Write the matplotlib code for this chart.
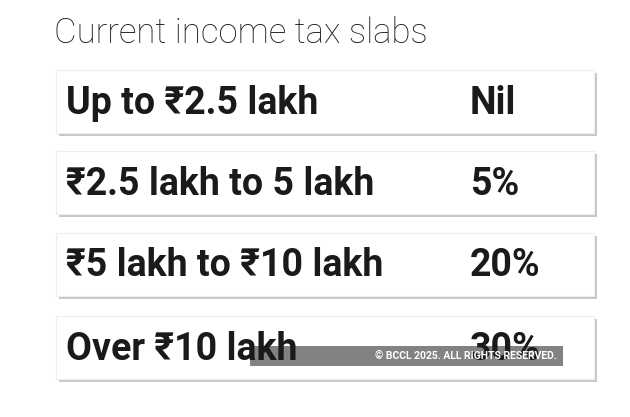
import matplotlib
matplotlib.use("Agg")
import matplotlib.pyplot as plt
from matplotlib.patches import Rectangle

title = "Current income tax slabs"
slabs = ["Up to \u20b92.5 lakh", "\u20b92.5 lakh to 5 lakh", "\u20b95 lakh to \u20b910 lakh", "Over \u20b910 lakh"]
rates = ["Nil", "5%", "20%", "30%"]

W, H = 630, 417
fig = plt.figure(figsize=(W/100, H/100), dpi=100)
ax = fig.add_axes([0, 0, 1, 1])
ax.set_xlim(0, W); ax.set_ylim(H, 0); ax.axis("off")
fam = ["Roboto", "DejaVu Sans"]

ax.text(54, 33, title, fontsize=25, family=fam, fontweight="light", color="#222222", va="center")
tops = [70, 151, 233, 316]
for t, s, r in zip(tops, slabs, rates):
    ax.add_patch(Rectangle((59, t+3), 538, 63, facecolor="#c8c8c8", edgecolor="none"))
    ax.add_patch(Rectangle((56, t), 538, 63, facecolor="white", edgecolor="#eeeeee", lw=0.8))
    ax.text(66, t+33, s, fontsize=27, family=fam, fontweight="bold", color="#1a1a1a", va="center")
    ax.text(470, t+33, r, fontsize=27, family=fam, fontweight="bold", color="#1a1a1a", va="center")

ax.add_patch(Rectangle((250, 346), 313, 20, facecolor="#777777", alpha=0.92, edgecolor="none"))
ax.text(557, 356, "\u00a9 BCCL 2025. ALL RIGHTS RESERVED.", fontsize=7.5, family=fam,
        fontweight="bold", color="white", ha="right", va="center")
fig.savefig("out.png", dpi=100, facecolor="white")
